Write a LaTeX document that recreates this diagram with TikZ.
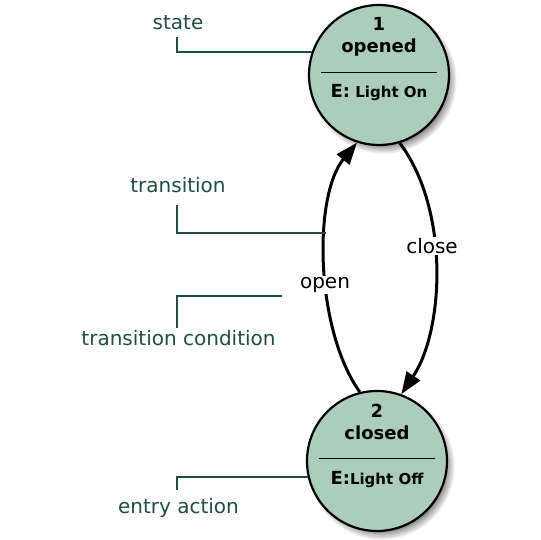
\documentclass[tikz,border=0pt]{standalone}
\usepackage{fontspec}
\setmainfont{DejaVu Sans}
\usetikzlibrary{arrows.meta,shadows}
\definecolor{statefill}{RGB}{172,205,187}
\definecolor{notecol}{RGB}{33,77,72}

\tikzset{
	statebox/.style={circle, draw=black, line width=2.2pt, fill=statefill, minimum size=140pt, inner sep=0pt,
		circular drop shadow={shadow xshift=4pt, shadow yshift=-5pt, shadow scale=1.05, opacity=1}},
	bigtext/.style={anchor=base, font=\fontsize{18}{21}\selectfont\bfseries},
	entrytext/.style={anchor=base, font=\fontsize{15}{18}\selectfont\bfseries},
	trans/.style={line width=3pt, -{Triangle[length=22pt,width=16pt]}},
	edgelbl/.style={fill=white, inner sep=1pt, font=\fontsize{20}{24}\selectfont},
	notelbl/.style={anchor=base, text=notecol, font=\fontsize{20}{24}\selectfont},
	note/.style={draw=notecol, line width=2pt}
}

\newcommand{\statecircle}[5]{

\begin{scope}[shift={#2}]
	\node[statebox] (#1) at (0,0) {};
	\node[bigtext] (#1-num) at (0,-44) {#3};
	\node[bigtext] (#1-name) at (0,-22) {#4};
	\draw[line width=1.5pt] (-58,-2.5) -- (58,-2.5);
	\node[entrytext] (#1-entry) at (0,23) {{\fontsize{18}{21}\selectfont E:}#5};
\end{scope}

}

\begin{document}
\begin{tikzpicture}[x=1pt, y=-1pt]

	\useasboundingbox (0,0) rectangle (540,540);

	\statecircle{opened}{(379,75)}{1}{opened}{\ Light On}
	\statecircle{closed}{(377,461)}{2}{closed}{Light Off}

	% transitions
	\draw[trans] (closed.104) .. controls (315,329) and (313,196) .. (opened.252) coordinate[pos=0.61] (openhit);
	\draw[trans] (opened.287) .. controls (450,210) and (444,330) .. (closed.70);
	\node[edgelbl] (openlbl) at (325,285) {open};
	\node[edgelbl] (closelbl) at (432,246) {close};

	% notes
	\node[notelbl] (statelbl) at (178,30) {state};
	\coordinate (statetip) at (177,37);
	\draw[note] (statetip) |- (opened.161);

	\node[notelbl] (translbl) at (178,193) {transition};
	\coordinate (transtip) at (177,205);
	\draw[note] (transtip) |- (openhit);

	\node[notelbl] (condlbl) at (178.5,345) {transition condition};
	\coordinate (condtip) at (177,328);
	\coordinate (condend) at (282,296);
	\draw[note] (condtip) |- (condend);

	\node[notelbl] (entrylbl) at (178.5,513) {entry action};
	\coordinate (entrytip) at (177,490);
	\draw[note] (entrytip) |- (closed.193);

\end{tikzpicture}
\end{document}
